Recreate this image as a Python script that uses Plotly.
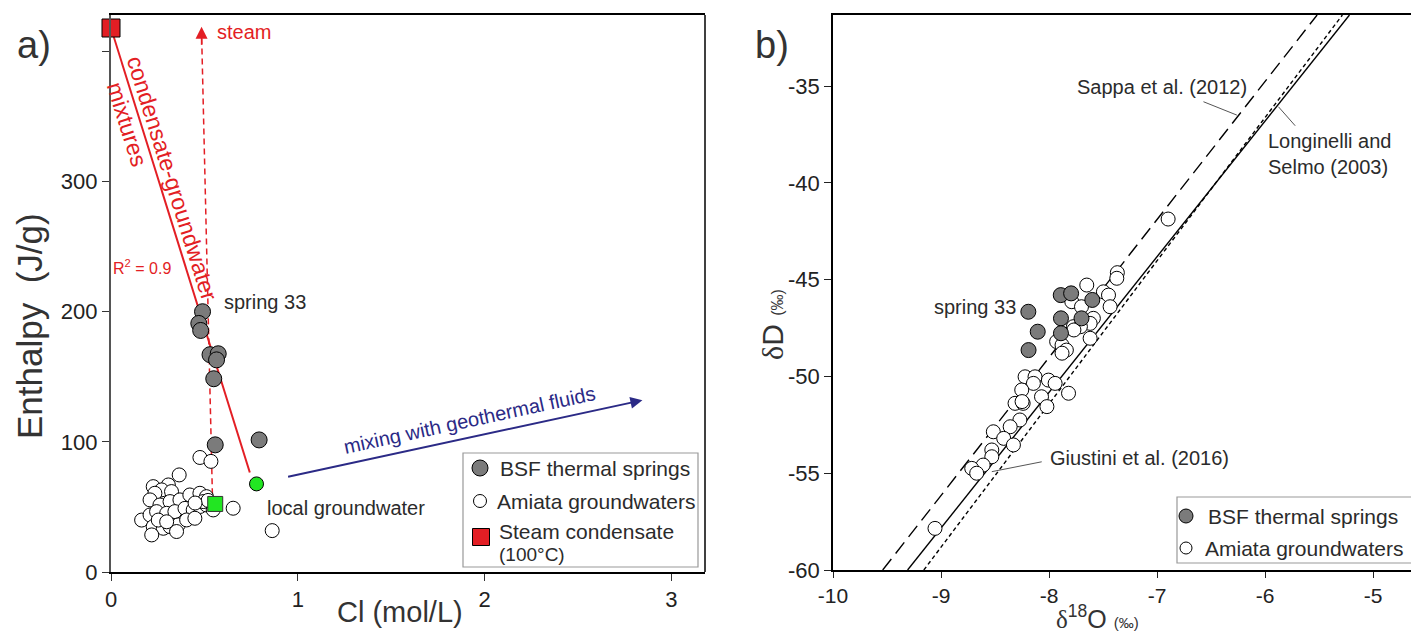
import plotly.graph_objects as go

W, H = 1411, 633
FONT = "Liberation Sans"
TXT = "#2b2b2b"

# ---------------- panel a data ----------------
cl_bsf = [0.49, 0.47, 0.48, 0.53, 0.574, 0.565, 0.55, 0.558, 0.793]
h_bsf = [200, 191, 185.6, 167, 167.7, 163, 148.5, 97.7, 101.5]

cl_amiata = [0.365, 0.476, 0.535, 0.654, 0.863,
             0.226, 0.307, 0.271, 0.235, 0.324, 0.209, 0.262, 0.316, 0.369, 0.422,
             0.476, 0.511, 0.164, 0.209, 0.244, 0.298, 0.342, 0.396, 0.440, 0.476,
             0.511, 0.226, 0.280, 0.316, 0.360, 0.405, 0.449, 0.218, 0.351, 0.253,
             0.298, 0.547, 0.494, 0.52, 0.45]
h_amiata = [74.6, 88, 85, 49, 31.8,
            65.6, 66.9, 63.1, 60.5, 61.8, 55.4, 51.5, 54.1, 55.4, 59.2,
            60.5, 57.9, 39.9, 43.8, 46.4, 45.1, 46.4, 48.9, 47.7, 50.3,
            51.5, 34.9, 33.6, 34.9, 36.2, 40.0, 41.3, 28.5, 31.1, 39.9,
            38.6, 47.7, 54.1, 55.0, 53.0]

cl_steam, h_steam = [0.0], [418]
cl_local, h_local = [0.779], [67.7]
cl_end, h_end = [0.558], [52.3]

mix_line_cl = [0.0, 0.743]
mix_line_h = [418, 76.4]
steam_line_cl = [0.544, 0.485]
steam_line_h = [52, 414]
geo_arrow_cl = [0.94, 2.845]
geo_arrow_h = [73, 132]

# ---------------- panel b data ----------------
o_bsf = [-8.192, -8.105, -8.19, -7.892, -7.796, -7.89, -7.89, -7.70, -7.60]
d_bsf = [-46.66, -47.69, -48.64, -45.8, -45.71, -47.0, -47.77, -47.0, -46.05]

o_amiata = [-7.368, -7.373, -7.651, -7.497, -7.45, -7.435, -7.79, -7.70, -7.59,
            -7.775, -7.62, -7.62, -7.93, -7.88, -7.84, -7.88, -7.71, -8.222,
            -8.13, -8.145, -8.006, -7.944, -8.253, -7.82, -8.07, -8.02, -8.315,
            -8.24, -8.27, -8.36, -8.516, -8.42, -8.33, -8.53, -8.53, -8.61,
            -8.716, -8.67, -9.056, -6.898, -7.77, -8.25]
d_amiata = [-44.64, -44.93, -45.28, -45.63, -45.8, -46.4, -46.14, -46.4, -47.0,
            -47.43, -47.26, -48.03, -48.2, -48.38, -48.64, -48.8, -47.43, -50.02,
            -50.02, -50.36, -50.19, -50.36, -50.70, -50.87, -51.05, -51.56, -51.39,
            -51.39, -52.25, -52.6, -52.86, -53.2, -53.54, -53.8, -54.15, -54.58,
            -54.75, -55.0, -57.85, -41.87, -47.6, -51.3]

# meteoric water lines: dD = slope * d18O + intercept
lines_names = ["Sappa et al. (2012)", "Giustini et al. (2016)", "Longinelli and Selmo (2003)"]
lines_slope = [7.13, 7.01, 7.40]
lines_icpt = [8.02, 5.26, 7.78]
lines_dash = ["14px,7px", "solid", "4px,3px"]

xa_ticks = [0, 1, 2, 3]
ya_ticks = [0, 100, 200, 300, 400]
ya_ticktext = ["0", "100", "200", "300", ""]
xb_ticks = [-10, -9, -8, -7, -6, -5]
yb_ticks = [-60, -55, -50, -45, -40, -35]

XA = [0.0, 3.18]
YA = [0, 428]
XB = [-10, -4.65]
YB = [-60, -31.33]

fig = go.Figure()

# panel a lines
fig.add_trace(go.Scatter(x=mix_line_cl, y=mix_line_h, mode="lines",
                         line=dict(color="#e31e24", width=2), xaxis="x", yaxis="y"))
fig.add_trace(go.Scatter(x=steam_line_cl, y=steam_line_h, mode="lines",
                         line=dict(color="#e31e24", width=1.5, dash="6px,4px"), xaxis="x", yaxis="y"))
# panel a points
fig.add_trace(go.Scatter(x=cl_amiata, y=h_amiata, mode="markers",
                         marker=dict(size=14, color="white", line=dict(color="black", width=1)),
                         xaxis="x", yaxis="y"))
fig.add_trace(go.Scatter(x=cl_bsf, y=h_bsf, mode="markers",
                         marker=dict(size=16, color="#7b7b7b", line=dict(color="black", width=1)),
                         xaxis="x", yaxis="y"))
fig.add_trace(go.Scatter(x=cl_end, y=h_end, mode="markers",
                         marker=dict(size=15, symbol="square", color="#22e622", line=dict(color="#333", width=1)),
                         xaxis="x", yaxis="y"))
fig.add_trace(go.Scatter(x=cl_local, y=h_local, mode="markers",
                         marker=dict(size=14, color="#22e622", line=dict(color="black", width=1)),
                         xaxis="x", yaxis="y"))
fig.add_trace(go.Scatter(x=cl_steam, y=h_steam, mode="markers", cliponaxis=False,
                         marker=dict(size=18, symbol="square", color="#e31e24", line=dict(color="black", width=1)),
                         xaxis="x", yaxis="y"))

# panel b lines
for nm, s, b, d in zip(lines_names, lines_slope, lines_icpt, lines_dash):
    ys = YB
    xs = [(y - b) / s for y in ys]
    fig.add_trace(go.Scatter(x=xs, y=ys, mode="lines", line=dict(color="black", width=1.4, dash=d),
                             xaxis="x2", yaxis="y2"))
fig.add_trace(go.Scatter(x=o_amiata, y=d_amiata, mode="markers",
                         marker=dict(size=14, color="white", line=dict(color="black", width=1)),
                         xaxis="x2", yaxis="y2"))
fig.add_trace(go.Scatter(x=o_bsf, y=d_bsf, mode="markers",
                         marker=dict(size=15, color="#7b7b7b", line=dict(color="black", width=1)),
                         xaxis="x2", yaxis="y2"))

def px2paper(px, py):
    return px / W, 1 - py / H

ann = []
shapes = []

def text_px(px, py, t, size=20, color=TXT, xanchor="center", angle=0, align="center"):
    x, y = px2paper(px, py)
    ann.append(dict(x=x, y=y, xref="paper", yref="paper", text=t, showarrow=False,
                    font=dict(family=FONT, size=size, color=color), xanchor=xanchor,
                    yanchor="middle", textangle=angle, align=align))

def text_data(x, y, t, xr, yr, size=20, color=TXT, xanchor="center", angle=0, align="center"):
    ann.append(dict(x=x, y=y, xref=xr, yref=yr, text=t, showarrow=False,
                    font=dict(family=FONT, size=size, color=color), xanchor=xanchor,
                    yanchor="middle", textangle=angle, align=align))

SERIF = "<span style='font-family:Liberation Serif'>δ</span>"

# panel labels & axis titles
text_px(34, 45, "a)", size=38, color="#333")
text_px(772, 45, "b)", size=38, color="#333")
text_px(30, 326, "Enthalpy&nbsp;&nbsp;(J/g)", size=35, angle=-90, color="#333")
text_px(400, 612, "Cl (mol/L)", size=29, color="#333")
text_px(772, 325, SERIF + "D <span style='font-size:16px'>(‰)</span>", size=30, angle=-90, color="#333")
text_px(1097, 617, SERIF + "<sup>18</sup>O <span style='font-size:15px'>(‰)</span>", size=25, color="#333")

# panel a texts
text_data(0.594, 207.7, "spring 33", "x", "y", size=20, xanchor="left")
text_data(1.257, 49.2, "local groundwater", "x", "y", size=20)
text_data(0.556, 414.6, "steam", "x", "y", size=20, color="#e31e24", xanchor="left")
text_data(0.166, 234, "R<sup>2</sup> = 0.9", "x", "y", size=16, color="#e31e24")
text_px(172, 178, "condensate-groundwater", size=23, color="#e31e24", angle=72.6)
text_px(127, 124, "mixtures", size=23, color="#e31e24", angle=72.6)
text_data(1.92, 117, "mixing with geothermal fluids", "x", "y", size=20, color="#2b2a86", angle=-12.2)

# arrows
ann.append(dict(x=steam_line_cl[1], y=419, ax=steam_line_cl[1], ay=404, xref="x", yref="y",
                axref="x", ayref="y", showarrow=True, arrowhead=2, arrowsize=1.6,
                arrowwidth=1.5, arrowcolor="#e31e24", text=""))
ann.append(dict(x=geo_arrow_cl[1], y=geo_arrow_h[1], ax=geo_arrow_cl[0], ay=geo_arrow_h[0],
                xref="x", yref="y", axref="x", ayref="y", showarrow=True, arrowhead=2,
                arrowsize=1.2, arrowwidth=2, arrowcolor="#2b2a86", text=""))

# panel b texts
text_data(-6.954, -35.04, "Sappa et al. (2012)", "x2", "y2", size=20)
text_data(-5.991, -38.49, "Longinelli and<br>Selmo (2003)", "x2", "y2", size=20, xanchor="left", align="left")
text_data(-8.009, -54.21, "Giustini et al. (2016)", "x2", "y2", size=20, xanchor="left")
text_data(-8.69, -46.40, "spring 33", "x2", "y2", size=20)

# leader lines
for (x0, y0, x1, y1) in [(-6.571, -35.81, -6.262, -36.50), (-5.877, -36.07, -5.722, -37.05),
                         (-8.068, -54.41, -8.53, -54.92)]:
    shapes.append(dict(type="line", xref="x2", yref="y2", x0=x0, y0=y0, x1=x1, y1=y1,
                       line=dict(color="#555", width=1)))

# right border of panel a (black)
shapes.append(dict(type="line", xref="paper", yref="paper", x0=705 / W, x1=705 / W,
                   y0=1 - 572 / H, y1=1 - 15 / H, line=dict(color="black", width=1.5)))

# legends (manual)
def box_px(x0, y0, x1, y1):
    a0, b0 = px2paper(x0, y0)
    a1, b1 = px2paper(x1, y1)
    shapes.append(dict(type="rect", xref="paper", yref="paper", x0=a0, y0=b1, x1=a1, y1=b0,
                       line=dict(color="#999", width=1.2), fillcolor="white", layer="above"))

def marker_px(px, py, size, fill, kind="circle"):
    x, y = px2paper(px, py)
    shapes.append(dict(type="circle" if kind == "circle" else "rect", xref="paper", yref="paper",
                       xsizemode="pixel", ysizemode="pixel", xanchor=x, yanchor=y,
                       x0=-size / 2, x1=size / 2, y0=-size / 2, y1=size / 2,
                       fillcolor=fill, line=dict(color="black", width=1), layer="above"))

box_px(463, 453, 698, 567)
marker_px(480, 468, 16, "#7b7b7b")
marker_px(480, 501, 13, "white")
marker_px(481, 537, 17, "#e31e24", kind="rect")
text_px(498, 468, "BSF thermal springs", size=21, xanchor="left")
text_px(495, 501, "Amiata groundwaters", size=21, xanchor="left")
text_px(497, 531, "Steam condensate", size=21, xanchor="left")
text_px(497, 554, "(100°C)", size=19, xanchor="left")

box_px(1177, 497, 1412, 563)
marker_px(1186, 516, 14, "#7b7b7b")
marker_px(1186, 548, 12, "white")
text_px(1206, 516, "BSF thermal springs", size=21, xanchor="left")
text_px(1203, 548, "Amiata groundwaters", size=21, xanchor="left")

def dom(px0, px1):
    return [px0 / W, px1 / W]

tickfont = dict(family=FONT, size=22, color="#222")
tickfont_b = dict(family=FONT, size=21, color="#222")

fig.update_layout(
    width=W, height=H, margin=dict(l=0, r=0, t=0, b=0),
    paper_bgcolor="white", plot_bgcolor="white", showlegend=False,
    annotations=ann, shapes=shapes,
    xaxis=dict(domain=dom(111, 705), range=XA, tickvals=xa_ticks, ticks="outside",
               ticklen=7, tickcolor="#333", showline=True, linecolor="black", linewidth=1.5,
               mirror=True, showgrid=False, zeroline=False, tickfont=tickfont, automargin=False,
               anchor="y"),
    yaxis=dict(domain=[1 - 572 / H, 1 - 15 / H], range=YA, tickvals=ya_ticks,
               ticktext=ya_ticktext, ticks="outside", ticklen=7,
               tickcolor="#333", showline=True, linecolor="#555", linewidth=2.2, mirror=False,
               showgrid=False, zeroline=False, tickfont=tickfont, automargin=False, anchor="x"),
    xaxis2=dict(domain=dom(833, 1411), range=XB, tickvals=xb_ticks,
                ticktext=[str(v) for v in xb_ticks],
                ticks="outside", ticklen=6, tickcolor="#222", showline=True, linecolor="black",
                linewidth=1.5, mirror=True, showgrid=False, zeroline=False, tickfont=tickfont_b,
                automargin=False, anchor="y2"),
    yaxis2=dict(domain=[1 - 570 / H, 1 - 15 / H], range=YB, tickvals=yb_ticks,
                ticktext=[str(v) for v in yb_ticks],
                ticks="outside", ticklen=7, tickcolor="#222", showline=True, linecolor="black",
                linewidth=1.5, mirror=False, showgrid=False, zeroline=False, tickfont=tickfont,
                automargin=False, anchor="x2"),
)

fig.write_html("out.html")
